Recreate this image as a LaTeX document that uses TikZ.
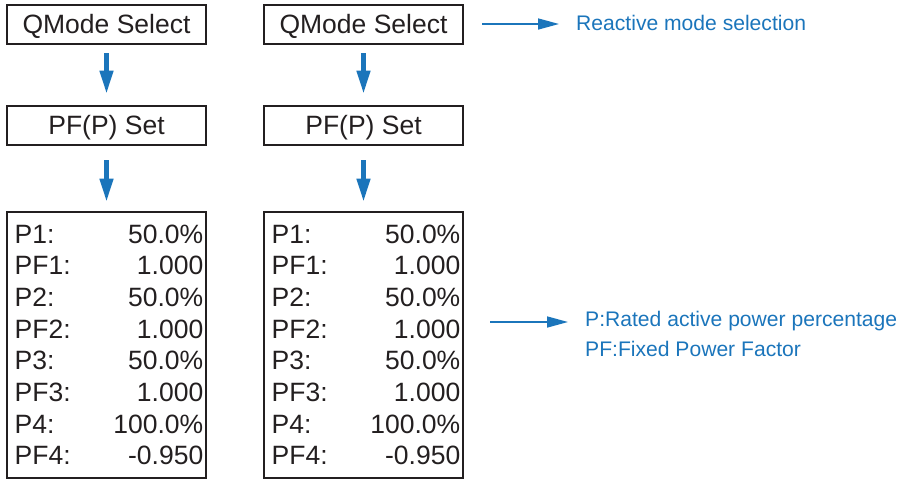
\documentclass[tikz,border=0pt]{standalone}
\usepackage{fontspec}
\setmainfont{Liberation Sans}
\usetikzlibrary{arrows.meta}
\definecolor{qblue}{HTML}{1B75BB}
\definecolor{frame}{HTML}{231F20}

\begin{document}
\begin{tikzpicture}[x=1pt,y=-1pt,
    every node/.style={inner sep=0pt,text=frame,font=\fontsize{26.5}{30}\selectfont},
    menubox/.style={draw=frame,line width=2.7pt,minimum width=199pt,minimum height=39pt,
      text height=18pt,text depth=0pt},
    listbox/.style={draw=frame,line width=2.7pt,minimum width=199pt,minimum height=266pt},
    flow/.style={qblue,line width=4.5pt,-{Triangle[length=23pt,width=13pt]}},
    notearrow/.style={qblue,line width=1.6pt,-{Triangle[length=21pt,width=11pt]}},
    note/.style={text=qblue,font=\fontsize{21.1}{25}\selectfont}]
    \useasboundingbox (0,0) rectangle (913,480);
    % two identical menu columns
    \foreach \c/\x in {1/106.5,2/363.5} {
      \node[menubox] (qsel\c) at (\x,24.6) {QMode Select};
      \node[menubox] (pfset\c) at (\x,125.5) {PF(P) Set};
      \node[listbox] (list\c) at (\x,345) {};
      \draw[flow,shorten <=8pt,shorten >=11pt] (qsel\c) -- (pfset\c);
      \draw[flow,shorten <=14pt,shorten >=9pt] (pfset\c) -- (list\c);
      \foreach \lab/\val [count=\i] in {P1:/50.0\%,PF1:/1.000,P2:/50.0\%,PF2:/1.000,
          P3:/50.0\%,PF3:/1.000,P4:/100.0\%,PF4:/-0.950} {
        \node[anchor=base west] (lab\c-\i) at ({\x-92},{243+(\i-1)*31.7}) {\lab};
        \node[anchor=base east] (val\c-\i) at ({\x+97},{243+(\i-1)*31.7}) {\val};
      }
    }
    % notes on the right
    \node[note,anchor=base west] (noteQ) at (576,30) {Reactive mode selection};
    \coordinate (nq1) at (482,24);
    \coordinate (nq2) at (559,24);
    \draw[notearrow] (nq1) -- (nq2);
    \node[note,anchor=base west] (noteP) at (585,326.7) {P:Rated active power percentage};
    \node[note,anchor=base west] (notePF) at (585,356.7) {PF:Fixed Power Factor};
    \coordinate (np1) at (490,322);
    \coordinate (np2) at (568,322);
    \draw[notearrow] (np1) -- (np2);
\end{tikzpicture}
\end{document}
